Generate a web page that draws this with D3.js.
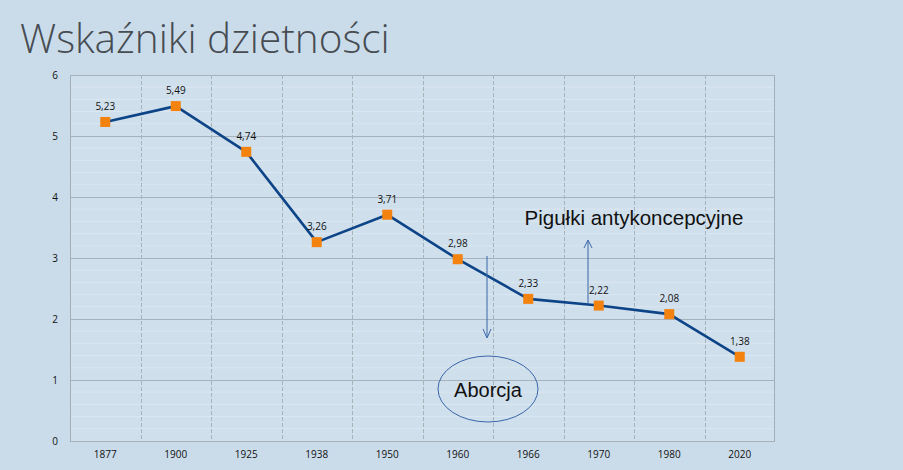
<!DOCTYPE html>
<html><head><meta charset="utf-8">
<script src="https://cdn.jsdelivr.net/npm/d3@7"></script>
<style>
html,body{margin:0;padding:0;background:#cadcea;}
svg{display:block;}
</style></head>
<body>
<svg id="c" width="903" height="470"></svg>
<script>
const categories = ["1877","1900","1925","1938","1950","1960","1966","1970","1980","2020"];
const values = [5.23,5.49,4.74,3.26,3.71,2.98,2.33,2.22,2.08,1.38];
const yTicks = [0,1,2,3,4,5,6];
const titleText = "Wskaźniki dzietności";
const annotPill = "Pigułki antykoncepcyjne";
const annotAbort = "Aborcja";

const svg = d3.select("#c");
const m = {left:70, right:775, top:75, bottom:441};

svg.append("rect").attr("width",903).attr("height",470).attr("fill","#cadcea");
svg.append("rect").attr("x",m.left).attr("y",m.top).attr("width",m.right-m.left).attr("height",m.bottom-m.top).attr("fill","#cfdfec");

svg.append("text").attr("x",20).attr("y",53).text(titleText)
  .attr("font-family","'Open Sans', sans-serif").attr("font-weight",300)
  .attr("font-size",40.5).attr("fill","#474c52");

const x = d3.scaleBand().domain(categories).range([m.left,m.right]);
const y = d3.scaleLinear().domain([0,6]).range([m.bottom,m.top]);

// minor gridlines
const minor = d3.range(0,6,0.2).filter(v=>Math.abs(v-Math.round(v))>1e-6);
svg.append("g").selectAll("line").data(minor).join("line")
  .attr("x1",m.left).attr("x2",m.right).attr("y1",d=>y(d)).attr("y2",d=>y(d))
  .attr("stroke","#dbe7f1").attr("stroke-width",1);
// major horizontal gridlines
svg.append("g").selectAll("line").data(yTicks).join("line")
  .attr("x1",m.left).attr("x2",m.right).attr("y1",d=>Math.round(y(d))+0.5).attr("y2",d=>Math.round(y(d))+0.5)
  .attr("stroke","#a7b3bc").attr("stroke-width",1);
// vertical dashed gridlines
svg.append("g").selectAll("line").data(categories.slice(1)).join("line")
  .attr("x1",d=>Math.round(x(d))+0.5).attr("x2",d=>Math.round(x(d))+0.5)
  .attr("y1",m.top).attr("y2",m.bottom)
  .attr("stroke","#a9b3ba").attr("stroke-width",1).attr("stroke-dasharray","4,2");
// plot frame
svg.append("line").attr("x1",m.left+0.5).attr("x2",m.left+0.5).attr("y1",m.top).attr("y2",m.bottom).attr("stroke","#a2aeb8");
svg.append("line").attr("x1",m.right-0.5).attr("x2",m.right-0.5).attr("y1",m.top).attr("y2",m.bottom).attr("stroke","#a2aeb8");

// axes
const yAxis = d3.axisLeft(y).tickValues(yTicks).tickSize(0).tickPadding(12).tickFormat(d3.format("d"));
const gy = svg.append("g").attr("transform",`translate(${m.left},0)`).call(yAxis);
gy.select(".domain").remove();
gy.selectAll("text").attr("font-family","'Open Sans', sans-serif").attr("font-size",10).attr("fill","#111");

const xAxis = d3.axisBottom(x).tickSize(0).tickPadding(10);
const gx = svg.append("g").attr("transform",`translate(0,${m.bottom})`).call(xAxis);
gx.select(".domain").remove();
gx.selectAll("text").attr("font-family","'Open Sans', sans-serif").attr("font-size",10).attr("fill","#111");

// line
const cx = d=>x(d)+x.bandwidth()/2;
const line = d3.line().x((d,i)=>cx(categories[i])).y(d=>y(d));
svg.append("path").datum(values).attr("d",line).attr("fill","none")
  .attr("stroke","#0d4487").attr("stroke-width",2.6).attr("stroke-linejoin","round");

// markers
svg.append("g").selectAll("rect").data(values).join("rect")
  .attr("x",(d,i)=>cx(categories[i])-5).attr("y",d=>y(d)-5)
  .attr("width",10).attr("height",10).attr("fill","#f3820f");

// labels
const fmt = d=>d3.format(".2f")(d).replace(".",",");
svg.append("g").selectAll("text").data(values).join("text")
  .attr("x",(d,i)=>cx(categories[i])).attr("y",d=>y(d)-12)
  .attr("text-anchor","middle").attr("font-family","'Open Sans', sans-serif")
  .attr("font-size",10).attr("fill","#111").text(fmt);

// annotations
svg.append("text").attr("x",634).attr("y",225).attr("text-anchor","middle")
  .attr("font-family","'Liberation Sans', Arial, sans-serif").attr("font-size",20.5).attr("fill","#111").text(annotPill);
const ar = svg.append("g").attr("stroke","#3a66a8").attr("stroke-width",1).attr("fill","none");
ar.append("line").attr("x1",588).attr("x2",588).attr("y1",303).attr("y2",241);
ar.append("path").attr("d","M584,248 L588,240 L592,248");
ar.append("line").attr("x1",487).attr("x2",487).attr("y1",256).attr("y2",337);
ar.append("path").attr("d","M483,329 L487,338 L491,329");
svg.append("ellipse").attr("cx",488).attr("cy",389).attr("rx",50).attr("ry",33)
  .attr("fill","none").attr("stroke","#3a66a8").attr("stroke-width",1);
svg.append("text").attr("x",488).attr("y",397).attr("text-anchor","middle")
  .attr("font-family","'Liberation Sans', Arial, sans-serif").attr("font-size",20).attr("fill","#111").text(annotAbort);
</script>
</body></html>
